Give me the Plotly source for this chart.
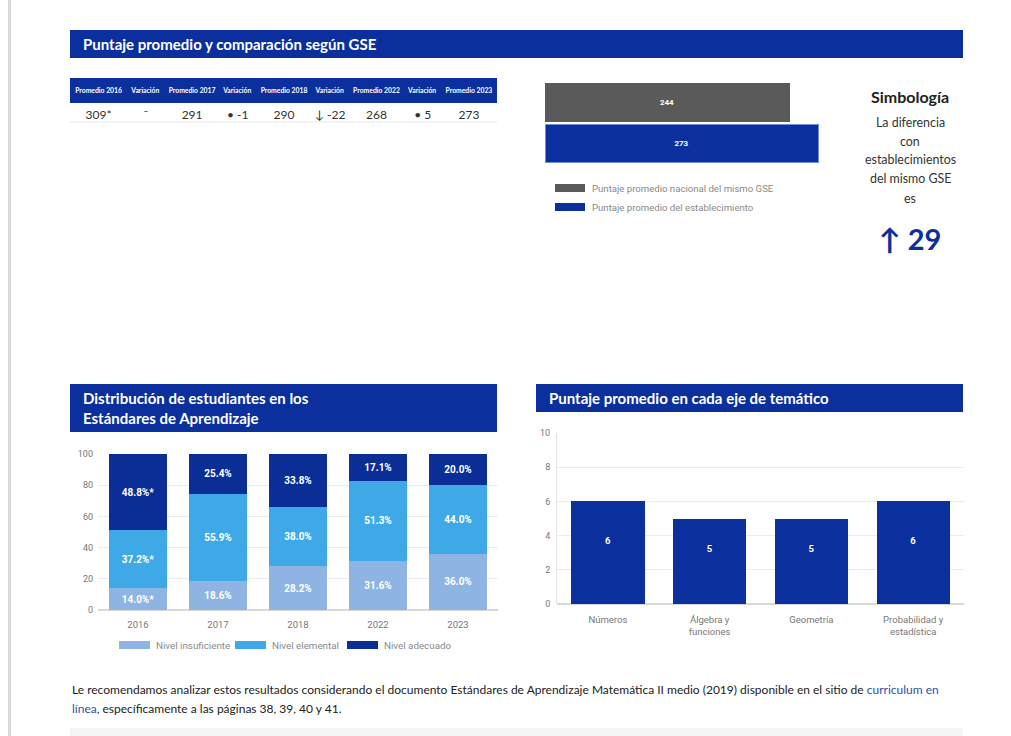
import plotly.graph_objects as go

W, H = 1011, 736
def X(px): return px / W
def Y(py): return 1 - py / H

BLUE = "#0B2F9C"
GRAY_BAR = "#5A5A5A"
C_INS = "#8DB4E2"
C_ELE = "#3FA9E8"
C_ADE = "#0A2D96"
NB = "\u00a0"

# ---------------- data ----------------
table_headers = ["Promedio 2016", "Variación", "Promedio 2017", "Variación", "Promedio 2018",
                 "Variación", "Promedio 2022", "Variación", "Promedio 2023"]
table_values = ["309*", "¯", "291", "• -1", "290", "↓ -22", "268", "• 5", "273"]
table_colwidths = [55, 36, 53, 35, 54, 35, 54, 35, 54]

gse_labels = ["Puntaje promedio nacional del mismo GSE", "Puntaje promedio del establecimiento"]
gse_values = [244, 273]
gse_colors = [GRAY_BAR, BLUE]
gse_diff = 29

years = ["2016", "2017", "2018", "2022", "2023"]
insuf = [14.0, 18.6, 28.2, 31.6, 36.0]
elem = [37.2, 55.9, 38.0, 51.3, 44.0]
adec = [48.8, 25.4, 33.8, 17.1, 20.0]
signif = [True, False, False, False, False]
level_names = ["Nivel insuficiente", "Nivel elemental", "Nivel adecuado"]

ejes = ["Números", "Álgebra y<br>funciones", "Geometría", "Probabilidad y<br>estadística"]
ejes_values = [6, 5, 5, 6]

# ---------------- figure ----------------
fig = go.Figure()

# Table
fig.add_trace(go.Table(
    domain=dict(x=[X(70), X(497)], y=[Y(134), Y(78)]),
    columnwidth=table_colwidths,
    header=dict(values=[f"<b>{h.replace(' ', NB)}</b>" for h in table_headers],
                fill_color=BLUE, line=dict(color=BLUE, width=1),
                font=dict(family="Lato", size=6.8, color="white"), height=12, align="center"),
    cells=dict(values=[[v.replace(' ', NB)] for v in table_values], fill_color="white",
               line=dict(color="white", width=1),
               font=dict(family="Lato", size=12, color="#333333"), height=32, align="center"),
))

# Horizontal GSE bars
fig.add_trace(go.Bar(
    x=gse_values, y=gse_labels, orientation="h",
    marker=dict(color=gse_colors, line=dict(color=["#5A5A5A", "#6E8FE0"], width=1)),
    text=[f"<b>{v}</b>" for v in gse_values], textposition="inside", insidetextanchor="middle",
    textfont=dict(family="Roboto", size=8, color="white"), textangle=0,
    width=0.925, xaxis="x", yaxis="y", showlegend=False, hoverinfo="skip",
))

# Stacked distribution
for name, vals, col in zip(level_names, [insuf, elem, adec], [C_INS, C_ELE, C_ADE]):
    fig.add_trace(go.Bar(
        x=years, y=vals, name=name, marker=dict(color=col, line=dict(width=0)),
        text=[f"<b>{v:.1f}%" + ("*" if s else "") + "</b>" for v, s in zip(vals, signif)],
        textposition="inside", insidetextanchor="middle", textangle=0,
        textfont=dict(family="Roboto", size=10, color="white"),
        width=0.72, xaxis="x2", yaxis="y2", showlegend=False, hoverinfo="skip",
    ))

# Thematic axes (label sits a little above the bar middle, as in the original)
fig.add_trace(go.Bar(
    x=ejes, y=ejes_values, marker=dict(color=BLUE, line=dict(width=0)),
    text=[f"<b>{v}</b><br> <br> " for v in ejes_values], textposition="inside",
    insidetextanchor="middle", textangle=0,
    textfont=dict(family="Roboto", size=9.5, color="white"),
    width=0.72, xaxis="x3", yaxis="y3", showlegend=False, hoverinfo="skip",
))

tickfont = dict(family="Roboto", size=9, color="#777777")
fig.update_layout(
    width=W, height=H, margin=dict(l=0, r=0, t=0, b=0, autoexpand=False),
    paper_bgcolor="white", plot_bgcolor="white", barmode="stack",
    xaxis=dict(domain=[X(545), X(845)], range=[0, 300], visible=False, fixedrange=True),
    yaxis=dict(domain=[Y(164), Y(82)], visible=False, autorange="reversed",
               categoryorder="array", categoryarray=gse_labels),
    xaxis2=dict(domain=[X(98), X(498)], anchor="y2", tickfont=dict(family="Roboto", size=9.5, color="#777777"),
                showgrid=False, showline=False, ticks="", ticklabelstandoff=7),
    yaxis2=dict(domain=[Y(610), Y(454)], anchor="x2", range=[0, 100], dtick=20,
                tickfont=tickfont, gridcolor="#EBEBEB", zeroline=True, zerolinecolor="#D8D8D8",
                ticks="", ticklabelstandoff=4),
    xaxis3=dict(domain=[X(557), X(964)], anchor="y3",
                tickfont=dict(family="Roboto", size=9.5, color="#777777"),
                showgrid=False, ticks="", ticklabelstandoff=8),
    yaxis3=dict(domain=[Y(604), Y(433)], anchor="x3", range=[0, 10], dtick=2,
                tickfont=tickfont, gridcolor="#EBEBEB", zeroline=True, zerolinecolor="#D8D8D8",
                showline=True, linecolor="#E3E3E3", ticks="", ticklabelstandoff=4),
)

shapes = []
annotations = []

# page left gray rule
shapes.append(dict(type="rect", xref="paper", yref="paper", x0=X(8), x1=X(11), y0=0, y1=1,
                   fillcolor="#DADADA", line=dict(width=0), layer="below"))

# header boxes
def header(x0, x1, y0, y1, lines, ytexts):
    shapes.append(dict(type="rect", xref="paper", yref="paper", x0=X(x0), x1=X(x1),
                       y0=Y(y1), y1=Y(y0), fillcolor=BLUE, line=dict(width=0), layer="below"))
    for t, yt in zip(lines, ytexts):
        annotations.append(dict(xref="paper", yref="paper", x=X(x0 + 12), y=Y(yt), text=f"<b>{t}</b>",
                                showarrow=False, xanchor="left", yanchor="middle", borderpad=0,
                                font=dict(family="Lato", size=15, color="white")))

header(70, 963, 30, 58, ["Puntaje promedio y comparación según GSE"], [44])
header(70, 497, 384, 432, ["Distribución de estudiantes en los", "Estándares de Aprendizaje"], [398, 418])
header(536, 963, 384, 412, ["Puntaje promedio en cada eje de temático"], [398])

# table bottom border
shapes.append(dict(type="line", xref="paper", yref="paper", x0=X(70), x1=X(497), y0=Y(122), y1=Y(122),
                   line=dict(color="#E6E6E6", width=1)))

# GSE legend
for lab, col, yy in zip(gse_labels, gse_colors, [188, 207]):
    shapes.append(dict(type="rect", xref="paper", yref="paper", x0=X(555), x1=X(585),
                       y0=Y(yy + 4), y1=Y(yy - 4), fillcolor=col, line=dict(width=0)))
    annotations.append(dict(xref="paper", yref="paper", x=X(590), y=Y(yy), text=lab, showarrow=False,
                            xanchor="left", yanchor="middle",
                            font=dict(family="Roboto", size=9.6, color="#8A8A8A")))

# Simbología
annotations.append(dict(xref="paper", yref="paper", x=X(910), y=Y(96), text="<b>Simbología</b>",
                        showarrow=False, xanchor="center", yanchor="middle",
                        font=dict(family="Lato", size=16, color="#222222")))
for t, yy in zip(["La diferencia", "con", "establecimientos", "del mismo GSE", "es"], [122, 141, 160, 179, 198]):
    annotations.append(dict(xref="paper", yref="paper", x=X(910), y=Y(yy), text=t, showarrow=False,
                            xanchor="center", yanchor="middle",
                            font=dict(family="Lato", size=12.4, color="#333333")))
arrow = "↑" if gse_values[1] - gse_values[0] > 0 else "↓"
annotations.append(dict(xref="paper", yref="paper", x=X(910), y=Y(239),
                        text=f"<b>{arrow} {gse_diff}</b>", showarrow=False,
                        xanchor="center", yanchor="middle",
                        font=dict(family="Lato", size=29, color=BLUE)))

# Stacked legend
for lab, col, xx in zip(level_names, [C_INS, C_ELE, C_ADE], [119, 235, 347]):
    shapes.append(dict(type="rect", xref="paper", yref="paper", x0=X(xx), x1=X(xx + 31),
                       y0=Y(649), y1=Y(641), fillcolor=col, line=dict(width=0)))
    annotations.append(dict(xref="paper", yref="paper", x=X(xx + 35), y=Y(645), text=lab, showarrow=False,
                            xanchor="left", yanchor="middle",
                            font=dict(family="Roboto", size=9.8, color="#8A8A8A")))

# Bottom text
link = "#2F4FA8"
annotations.append(dict(xref="paper", yref="paper", x=X(70), y=Y(689),
                        text=("Le recomendamos analizar estos resultados considerando el documento Estándares de "
                              "Aprendizaje Matemática II medio (2019) disponible en el sitio de "
                              f"<span style='color:{link}'>curriculum en</span>"),
                        showarrow=False, xanchor="left", yanchor="middle",
                        font=dict(family="Lato", size=12, color="#222222")))
annotations.append(dict(xref="paper", yref="paper", x=X(70), y=Y(708),
                        text=(f"<span style='color:{link}'>línea</span>, específicamente a las páginas 38, 39, 40 y 41."),
                        showarrow=False, xanchor="left", yanchor="middle",
                        font=dict(family="Lato", size=12, color="#222222")))

# bottom light box
shapes.append(dict(type="rect", xref="paper", yref="paper", x0=X(70), x1=X(963), y0=0, y1=Y(728),
                   fillcolor="#F5F5F5", line=dict(width=0), layer="below"))

fig.update_layout(shapes=shapes, annotations=annotations)
fig.write_html("out.html", config={"displayModeBar": False},
               post_script="document.body.style.margin='0px';document.body.style.overflow='hidden';")
